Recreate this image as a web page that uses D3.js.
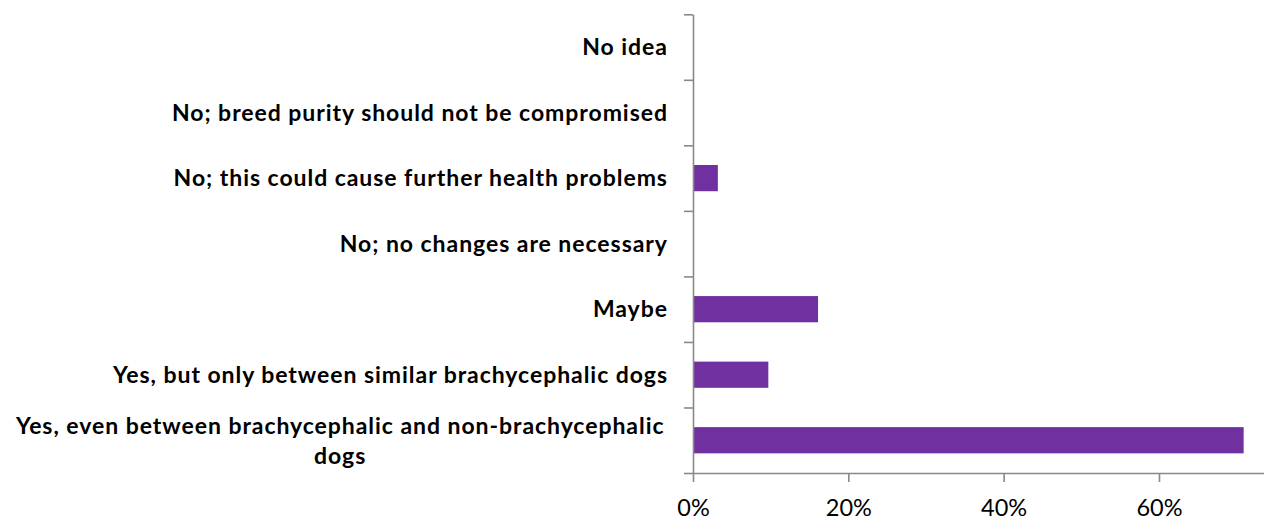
<!DOCTYPE html>
<html>
<head>
<meta charset="utf-8">
<script src="https://cdn.jsdelivr.net/npm/d3@7"></script>
<style>
  html, body { margin: 0; padding: 0; background: #fff; }
  svg { display: block; overflow: hidden; }
</style>
</head>
<body>
<script>
// ---- Data ----
const categories = [
  "No idea",
  "No; breed purity should not be compromised",
  "No; this could cause further health problems",
  "No; no changes are necessary",
  "Maybe",
  "Yes, but only between similar brachycephalic dogs",
  "Yes, even between brachycephalic and non-brachycephalic dogs"
];
const values = [0, 0, 0.032, 0, 0.161, 0.097, 0.709];
const xTickValues = [0, 0.2, 0.4, 0.6];

// ---- Layout ----
const W = 1264, H = 519;
const axisX = 693, topY = 14.3, bottomY = 473;
const step20 = 155.33;
const labelRight = 667;

const svg = d3.select("body").append("svg")
  .attr("width", W).attr("height", H);

const x = d3.scaleLinear().domain([0, 0.8]).range([axisX, axisX + step20 * 4]);
const y = d3.scaleBand().domain(categories).range([topY, bottomY])
  .paddingInner(0.6).paddingOuter(0.3);
const yb = d3.scaleLinear().domain([0, categories.length]).range([topY, bottomY]);

const axisColor = "#898989";

// bars
svg.append("g").selectAll("rect").data(categories).join("rect")
  .attr("x", x(0))
  .attr("y", d => y(d))
  .attr("width", (d, i) => x(values[i]) - x(0))
  .attr("height", y.bandwidth())
  .attr("fill", "#7030A0");

// y axis
const yAxis = svg.append("g")
  .attr("transform", `translate(${axisX},0)`)
  .call(d3.axisLeft(yb).tickValues(d3.range(categories.length + 1))
    .tickSize(9).tickSizeOuter(0).tickFormat(""));
yAxis.select(".domain").attr("stroke", axisColor).attr("stroke-width", 1.6);
yAxis.selectAll(".tick line").attr("stroke", axisColor).attr("stroke-width", 1.6);

// x axis
const xAxis = svg.append("g")
  .attr("transform", `translate(0,${bottomY})`)
  .call(d3.axisBottom(x).tickValues(xTickValues).tickSize(9).tickSizeOuter(0)
    .tickFormat(d3.format(".0%")));
xAxis.select(".domain").attr("stroke", axisColor).attr("stroke-width", 1.6);
xAxis.selectAll(".tick line").attr("stroke", axisColor).attr("stroke-width", 1.6);
xAxis.selectAll(".tick text")
  .attr("y", 0).attr("dy", 0)
  .attr("transform", "translate(0,42.5)")
  .attr("font-family", "Lato, 'Open Sans', sans-serif")
  .attr("font-size", 23.5)
  .attr("fill", "#000");

// category labels
const labelFont = "Lato, 'Open Sans', sans-serif";
const fontSize = 23;
const maxW = 655;
const lineH = 30;
const lg = svg.append("g");

const probeT = lg.append("text").attr("font-family", labelFont)
  .attr("font-weight", "bold").attr("font-size", fontSize)
  .text(categories[1]);
const baseW = probeT.node().getComputedTextLength();
probeT.remove();
const ls = Math.max(0, (496 - baseW) / categories[1].length);

categories.forEach((c, i) => {
  const cy = y(c) + y.bandwidth() / 2;
  const t = lg.append("text")
    .attr("font-family", labelFont)
    .attr("font-weight", "bold")
    .attr("font-size", fontSize)
    .attr("letter-spacing", ls)
    .attr("fill", "#000");
  const words = c.split(" ");
  const lines = [];
  let cur = [];
  const probe = t.append("tspan");
  words.forEach(w => {
    const test = cur.concat([w]).join(" ");
    probe.text(test);
    if (probe.node().getComputedTextLength() > maxW && cur.length) {
      lines.push(cur.join(" "));
      cur = [w];
    } else cur.push(w);
  });
  lines.push(cur.join(" "));
  probe.remove();
  if (lines.length === 1) {
    t.attr("text-anchor", "end")
      .attr("x", labelRight + ls).attr("y", cy).attr("dy", "0.36em")
      .text(lines[0]);
  } else {
    let widest = 0;
    lines.forEach(l => {
      const s = t.append("tspan").text(l);
      widest = Math.max(widest, s.node().getComputedTextLength());
      s.remove();
    });
    const cx = labelRight - 3 - widest / 2 + ls / 2;
    const y0 = cy - (lines.length - 1) * lineH / 2;
    t.attr("text-anchor", "middle");
    lines.forEach((l, k) => {
      t.append("tspan").attr("x", cx).attr("y", y0 + k * lineH)
        .attr("dy", "0.36em").text(l);
    });
  }
});
</script>
</body>
</html>
